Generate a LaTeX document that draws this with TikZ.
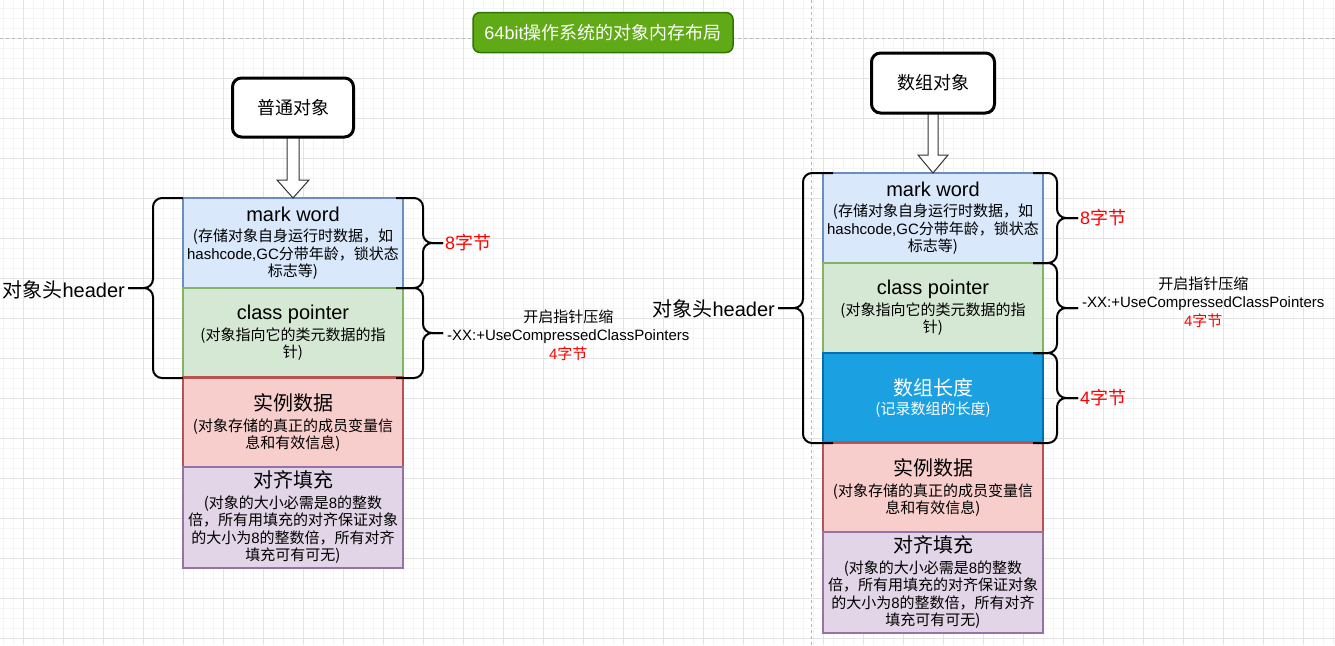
\documentclass[tikz,border=0pt]{standalone}
\usepackage{fontspec}
\setmainfont{Noto Sans CJK SC}
\newfontfamily\lat{Liberation Sans}
\usetikzlibrary{calc}

\definecolor{gridminor}{HTML}{F4F4F4}
\definecolor{gridmajor}{HTML}{E3E3E3}
\definecolor{guidegray}{HTML}{B8B8B8}
\definecolor{titlefill}{HTML}{60A917}
\definecolor{titleline}{HTML}{2D7600}
\definecolor{bluefill}{HTML}{DAE8FC}
\definecolor{blueline}{HTML}{6C8EBF}
\definecolor{greenfill}{HTML}{D5E8D4}
\definecolor{greenline}{HTML}{82B366}
\definecolor{redfill}{HTML}{F8CECC}
\definecolor{redline}{HTML}{B85450}
\definecolor{purplefill}{HTML}{E1D5E7}
\definecolor{purpleline}{HTML}{9673A6}
\definecolor{arrfill}{HTML}{1BA1E2}
\definecolor{arrline}{HTML}{006EAF}
\definecolor{notered}{HTML}{FF0000}

\newcommand\cellhead[1]{{\fontsize{20}{24}\selectfont #1}}

\tikzset{
  gridline/.style={line width=1pt},
  guide/.style={guidegray, line width=1pt, dash pattern=on 3pt off 3pt},
  titlebox/.style={draw=titleline, fill=titlefill, line width=1.5pt, rounded corners=7pt,
    minimum width=260pt, minimum height=40pt, text=white, font=\fontsize{18}{22}\selectfont},
  kindbox/.style={draw, fill=white, line width=3pt, rounded corners=9pt,
    minimum width=121pt, minimum height=59pt, font=\fontsize{18}{22}\selectfont},
  cell/.style={draw, line width=2.8pt, minimum width=220pt, minimum height=90pt, inner sep=0pt,
    outer sep=0pt, align=center, font=\fontsize{15}{17.5}\selectfont},
  bluecell/.style={cell, fill=bluefill, draw=blueline},
  greencell/.style={cell, fill=greenfill, draw=greenline},
  redcell/.style={cell, fill=redfill, draw=redline},
  purplecell/.style={cell, fill=purplefill, draw=purpleline, minimum height=101pt},
  arrcell/.style={cell, fill=arrfill, draw=arrline, text=white},
  blockarrow/.style={draw=black!80, fill=white, line width=1pt},
  curly/.style={draw=black, line width=2pt, rounded corners=9pt},
  sidelabel/.style={inner sep=0pt, font=\fontsize{20}{24}\selectfont},
  sizelabel/.style={inner sep=0pt, text=notered, font=\fontsize{18}{22}\selectfont},
  flaglabel/.style={inner sep=0pt, align=center, font=\fontsize{15}{18.5}\selectfont},
}

\begin{document}
\begin{tikzpicture}[x=1pt, y=-1pt]
\useasboundingbox (0,0) rectangle (1335,645);
\fill[white] (0,0) rectangle (1335,645);

% background grid
\foreach \gx in {3,13,...,1333} \draw[gridline, gridminor] (\gx,0) -- (\gx,645);
\foreach \gy in {8,18,...,638} \draw[gridline, gridminor] (0,\gy) -- (1335,\gy);
\foreach \gx in {23,63,...,1303} \draw[gridline, gridmajor] (\gx,0) -- (\gx,645);
\foreach \gy in {38,78,...,638} \draw[gridline, gridmajor] (0,\gy) -- (1335,\gy);

% guide lines
\draw[guide] (0,38) -- (1335,38);
\draw[guide] (811,0) -- (811,645);

% title
\node[titlebox] (title) at (603,32.5) {{\lat 64bit}操作系统的对象内存布局};

% ---------- ordinary object ----------
\node[bluecell] (lmark) at (293,243)
  {\cellhead{\lat mark word}\\[3pt]
   (存储对象自身运行时数据，如\\ {\lat hashcode,GC}分带年龄，锁状态\\ 标志等)};
\node[greencell] (lclass) at (293,333)
  {\cellhead{\lat class pointer}\\[3pt]
   (对象指向它的类元数据的指\\ 针)};
\node[redcell] (linst) at (293,422.5)
  {\cellhead{实例数据}\\[3pt]
   (对象存储的真正的成员变量信\\ 息和有效信息)};
\node[purplecell] (lpad) at (293,517.5)
  {\cellhead{对齐填充}\\[3pt]
   (对象的大小必需是{\lat 8}的整数\\ 倍，所有用填充的对齐保证对象\\
    的大小为{\lat 8}的整数倍，所有对齐\\ 填充可有可无)};

\coordinate (ltopanchor) at (293,137);
\draw[blockarrow]
  ($(ltopanchor)+(-6,0)$) -- ($(lmark.north)+(-6,-18)$) -- ($(lmark.north)+(-16,-18)$)
  -- (lmark.north) -- ($(lmark.north)+(16,-18)$) -- ($(lmark.north)+(6,-18)$)
  -- ($(ltopanchor)+(6,0)$);
\node[kindbox] (ltop) at (293,107.5) {普通对象};

% header brace
\coordinate (lhmid) at ($(lmark.north west)!0.5!(lclass.south west)$);
\draw[curly] (lmark.north west) -- ++(-30,0) |- ($(lhmid)+(-55,0)$);
\draw[curly] (lclass.south west) -- ++(-30,0) |- ($(lhmid)+(-55,0)$);
\node[sidelabel, anchor=east] (lhdr) at ($(lhmid)+(-58,2)$) {对象头{\lat header}};

% mark word brace
\draw[curly] ($(lmark.north east)+(-7,0)$) -- ++(27,0) |- ($(lmark.east)+(40,0)$);
\draw[curly] ($(lmark.south east)+(-7,0)$) -- ++(27,0) |- ($(lmark.east)+(40,0)$);
\node[sizelabel, anchor=west] (l8) at ($(lmark.east)+(42,0)$) {{\lat 8}字节};

% class pointer brace
\draw[curly] ($(lclass.north east)+(-7,0)$) -- ++(27,0) |- ($(lclass.east)+(40,0)$);
\draw[curly] ($(lclass.south east)+(-7,0)$) -- ++(27,0) |- ($(lclass.east)+(40,0)$);
\node[flaglabel, anchor=west] (lflag) at ($(lclass.east)+(44,2)$)
  {开启指针压缩\\ {\lat -XX:+UseCompressedClassPointers}\\ {\color{notered}{\lat 4}字节}};

% ---------- array object ----------
\node[bluecell] (rmark) at (933,218)
  {\cellhead{\lat mark word}\\[3pt]
   (存储对象自身运行时数据，如\\ {\lat hashcode,GC}分带年龄，锁状态\\ 标志等)};
\node[greencell] (rclass) at (933,308)
  {\cellhead{\lat class pointer}\\[3pt]
   (对象指向它的类元数据的指\\ 针)};
\node[arrcell] (rlen) at (933,398)
  {\cellhead{数组长度}\\[1pt]
   (记录数组的长度)};
\node[redcell] (rinst) at (933,487.5)
  {\cellhead{实例数据}\\[3pt]
   (对象存储的真正的成员变量信\\ 息和有效信息)};
\node[purplecell] (rpad) at (933,582.5)
  {\cellhead{对齐填充}\\[3pt]
   (对象的大小必需是{\lat 8}的整数\\ 倍，所有用填充的对齐保证对象\\
    的大小为{\lat 8}的整数倍，所有对齐\\ 填充可有可无)};

\coordinate (rtopanchor) at (933,113);
\draw[blockarrow]
  ($(rtopanchor)+(-5,0)$) -- ($(rmark.north)+(-5,-18)$) -- ($(rmark.north)+(-15,-18)$)
  -- (rmark.north) -- ($(rmark.north)+(15,-18)$) -- ($(rmark.north)+(5,-18)$)
  -- ($(rtopanchor)+(5,0)$);
\node[kindbox, minimum width=123pt, minimum height=60pt] (rtop) at (933,83) {数组对象};

% header brace
\coordinate (rhmid) at ($(rmark.north west)!0.5!(rlen.south west)$);
\draw[curly] ($(rmark.north west)+(10,0)$) -- ++(-30,0) |- ($(rhmid)+(-45,0)$);
\draw[curly] ($(rlen.south west)+(10,0)$) -- ++(-30,0) |- ($(rhmid)+(-45,0)$);
\node[sidelabel, anchor=east] (rhdr) at ($(rhmid)+(-48,1)$) {对象头{\lat header}};

% mark word brace
\draw[curly] ($(rmark.north east)+(-10,0)$) -- ++(24,0) |- ($(rmark.east)+(35,0)$);
\draw[curly] ($(rmark.south east)+(-10,0)$) -- ++(24,0) |- ($(rmark.east)+(35,0)$);
\node[sizelabel, anchor=west] (r8) at ($(rmark.east)+(37,0)$) {{\lat 8}字节};

% class pointer brace
\draw[curly] ($(rclass.north east)+(-10,0)$) -- ++(24,0) |- ($(rclass.east)+(35,0)$);
\draw[curly] ($(rclass.south east)+(-10,0)$) -- ++(24,0) |- ($(rclass.east)+(35,0)$);
\node[flaglabel, anchor=west] (rflag) at ($(rclass.east)+(39,-6)$)
  {开启指针压缩\\ {\lat -XX:+UseCompressedClassPointers}\\ {\color{notered}{\lat 4}字节}};

% array length brace
\draw[curly] ($(rlen.north east)+(-10,0)$) -- ++(24,0) |- ($(rlen.east)+(35,0)$);
\draw[curly] ($(rlen.south east)+(-10,0)$) -- ++(24,0) |- ($(rlen.east)+(35,0)$);
\node[sizelabel, anchor=west] (r4) at ($(rlen.east)+(37,0)$) {{\lat 4}字节};
\end{tikzpicture}
\end{document}
